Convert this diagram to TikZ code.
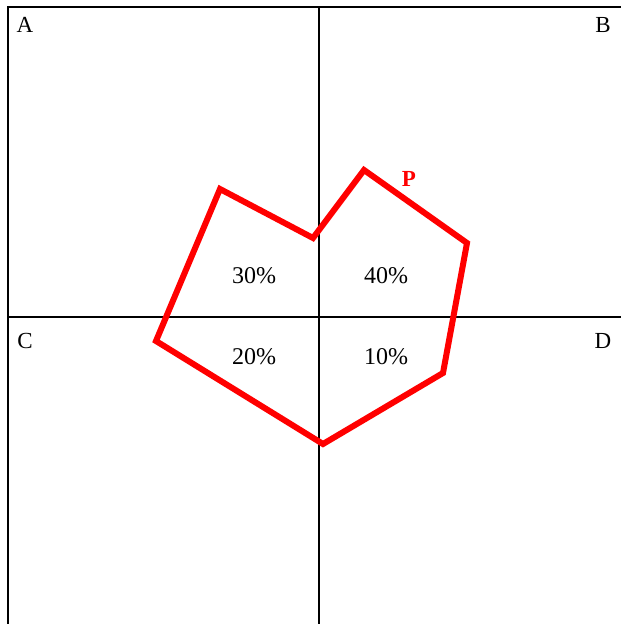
\documentclass[tikz,border=0pt]{standalone}
\usepackage{fontspec}
\setmainfont{Liberation Serif}
\begin{document}
\begin{tikzpicture}[x=1pt,y=-1pt,
  frame/.style={line width=2pt,black},
  poly/.style={line width=6pt,red,line join=miter},
  lbl/.style={font=\fontsize{23}{25}\selectfont,inner sep=0pt},
  pct/.style={font=\fontsize{24}{26}\selectfont,inner sep=0pt}]
\useasboundingbox (0,0) rectangle (621,624);
\coordinate (tl) at (8,7);
\coordinate (tr) at (621,7);
\coordinate (bl) at (8,624);
\coordinate (vt) at (319,7);
\coordinate (vb) at (319,624);
\coordinate (hl) at (8,317);
\coordinate (hr) at (621,317);
\draw[frame] (bl) -- (tl) -- (tr);
\draw[frame] (vt) -- (vb);
\draw[frame] (hl) -- (hr);
\coordinate (p1) at (220,189);
\coordinate (p2) at (313,238);
\coordinate (p3) at (364,170);
\coordinate (p4) at (467,243);
\coordinate (p5) at (443,373);
\coordinate (p6) at (323,444);
\coordinate (p7) at (156,341);
\draw[poly] (p1) -- (p2) -- (p3) -- (p4) -- (p5) -- (p6) -- (p7) -- cycle;
\node[lbl] (A) at (25,25) {A};
\node[lbl] (B) at (603,25) {B};
\node[lbl] (C) at (25,341) {C};
\node[lbl] (D) at (603,341) {D};
\node[lbl,red,font=\fontsize{23}{25}\selectfont\bfseries] (P) at (409,179) {P};
\node[pct] (n30) at (254,276) {30\%};
\node[pct] (n40) at (386,276) {40\%};
\node[pct] (n20) at (254,357) {20\%};
\node[pct] (n10) at (386,357) {10\%};
\end{tikzpicture}
\end{document}
